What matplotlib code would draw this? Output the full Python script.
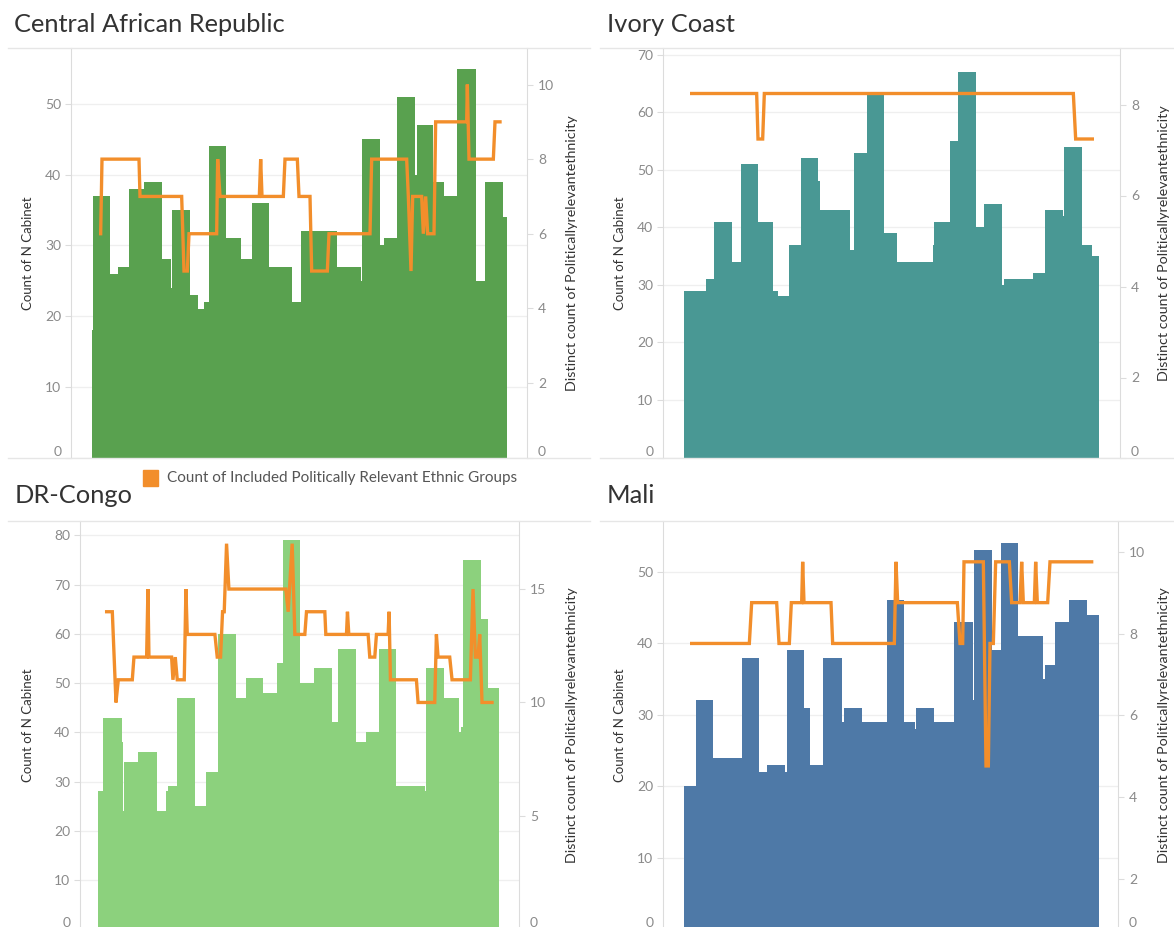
import numpy as np
import matplotlib
matplotlib.use("Agg")
import matplotlib.pyplot as plt
import matplotlib.transforms as mtransforms
from matplotlib.lines import Line2D
from matplotlib.patches import Rectangle

plt.rcParams['font.family'] = ['Lato', 'DejaVu Sans']

W, H = 1174, 927
ORANGE = '#F28E2B'
GREY_TXT = '#8a8a8a'
DARK = '#333333'
LINE_C = '#dcdcdc'

# ---- data (x = period index, bars are step segments between edges) ----
car_edges = [3.5, 3.8, 9.0, 11.5, 14.7, 19.3, 24.7, 27.2, 27.6, 33.0, 35.3, 37.3, 38.6, 43.8,
             48.2, 51.5, 56.8, 63.6, 66.3, 77.0, 84.3, 84.7, 90.1, 91.2, 95.2, 100.5, 101.0,
             106.0, 109.2, 113.2, 118.7, 121.5, 127.0, 128.0]
car_cabinet = [18, 37, 26, 27, 38, 39, 28, 24, 35, 23, 21, 22, 44, 31, 28, 36, 27, 22, 32, 27,
               25, 45, 30, 31, 51, 40, 47, 39, 37, 55, 25, 39, 34]
car_t = [6.2, 6.6, 17.7, 18.0, 30.5, 31.2, 32.2, 32.7, 41.0, 41.3, 42.0, 53.8, 54.2, 54.6, 61.0,
         61.5, 65.2, 65.7, 69.0, 69.5, 74.2, 74.7, 87.0, 87.5, 98.0, 98.5, 99.3, 99.8, 102.5,
         103.0, 103.7, 104.3, 106.2, 106.7, 116.0, 116.2, 116.7, 124.0, 124.5, 126.0]
car_groups = [6, 8, 8, 7, 7, 5, 5, 6, 6, 8, 7, 7, 8, 7, 7, 8, 8, 7, 7, 5, 5, 6, 6, 8, 8, 7, 5, 7,
              7, 6, 7, 6, 6, 9, 9, 10, 8, 8, 9, 9]

civ_edges = [4.2, 10.7, 13.2, 18.5, 21.2, 26.5, 30.8, 32.3, 35.8, 39.2, 44.5, 45.0, 54.0, 55.2,
             59.0, 64.3, 68.0, 79.0, 79.3, 84.0, 86.5, 91.8, 94.2, 99.5, 100.3, 108.8, 112.5,
             117.8, 118.3, 123.7, 126.5, 128.7]
civ_cabinet = [29, 31, 41, 34, 51, 41, 29, 28, 37, 52, 48, 43, 36, 53, 63, 39, 34, 37, 41, 55,
               67, 40, 44, 30, 31, 32, 43, 42, 54, 37, 35]
civ_t = [6.5, 26.0, 26.4, 27.8, 28.3, 121.0, 121.7, 126.7]
civ_groups = [8, 8, 7, 7, 8, 8, 7, 7]

drc_edges = [5.5, 7.0, 12.5, 13.0, 13.2, 17.5, 23.0, 25.8, 26.5, 29.2, 34.5, 37.8, 41.3, 46.7,
             49.8, 55.0, 59.2, 61.0, 66.2, 70.3, 75.7, 77.5, 82.8, 86.0, 89.7, 95.0, 103.5,
             104.0, 109.2, 113.7, 114.5, 115.0, 120.3, 122.5, 125.8]
drc_cabinet = [28, 43, 38, 24, 34, 36, 24, 28, 29, 47, 25, 32, 60, 47, 51, 48, 54, 79, 50, 53,
               42, 57, 38, 40, 57, 29, 28, 53, 47, 40, 41, 75, 63, 49]
drc_t = [8.0, 9.7, 10.8, 11.5, 15.7, 16.2, 20.0, 20.4, 20.7, 27.5, 27.9, 28.6, 29.2, 31.3, 31.8,
         32.2, 40.5, 41.2, 42.2, 42.8, 43.3, 44.0, 44.7, 61.8, 62.5, 63.7, 64.5, 67.5, 68.0,
         73.5, 73.8, 80.0, 80.3, 80.7, 86.5, 87.0, 88.5, 89.0, 92.5, 92.8, 93.2, 101.0, 101.5,
         106.5, 107.0, 107.5, 111.0, 111.7, 117.2, 118.0, 118.7, 119.5, 120.0, 120.7, 123.7]
drc_groups = [14, 14, 10, 11, 11, 12, 12, 15, 12, 12, 11, 12, 11, 11, 15, 13, 13, 12, 12, 14, 14,
              17, 15, 15, 14, 17, 13, 13, 14, 14, 13, 13, 14, 13, 13, 12, 12, 13, 13, 14, 11, 11,
              10, 10, 13, 12, 12, 11, 11, 15, 12, 12, 13, 10, 10]

mli_edges = [4.2, 7.8, 13.0, 21.5, 26.8, 29.0, 34.5, 35.0, 40.2, 42.0, 46.0, 51.5, 52.2, 57.5,
             65.0, 70.3, 73.5, 73.8, 79.3, 85.3, 90.8, 91.2, 96.7, 99.2, 104.5, 112.0, 112.5,
             115.5, 119.8, 125.0, 128.7]
mli_cabinet = [20, 32, 24, 38, 22, 23, 22, 39, 31, 23, 38, 29, 31, 29, 46, 29, 28, 31, 29, 43,
               32, 53, 39, 54, 41, 35, 37, 43, 46, 44]
mli_t = [6.5, 23.8, 24.5, 32.0, 32.7, 35.8, 36.4, 39.5, 39.8, 40.2, 48.3, 48.8, 67.3, 67.8,
         68.3, 86.2, 87.0, 87.8, 88.2, 94.0, 94.8, 95.5, 96.0, 97.0, 97.7, 101.8, 102.5, 105.0,
         105.5, 106.0, 109.3, 109.7, 110.2, 113.3, 114.0, 126.5]
mli_groups = [7, 7, 8, 8, 7, 7, 8, 8, 9, 8, 8, 7, 7, 9, 8, 8, 7, 7, 9, 9, 4, 4, 7, 7, 9, 9, 8, 8,
              9, 8, 8, 9, 8, 8, 9, 9]

fig = plt.figure(figsize=(W / 100, H / 100), dpi=100)
fig.patch.set_facecolor('white')


def fx(px):
    return px / W


def fy(py):
    return 1 - py / H


def hline(x0, x1, y):
    fig.add_artist(Line2D([fx(x0), fx(x1)], [fy(y), fy(y)], color='#e6e6e6', lw=1.0,
                          transform=fig.transFigure))


def panel(box, title, tpos, edges, cabinet, color, t, groups, xlim, ylim, yticks, ylim2, yticks2,
          lab_x, rlab_x, rlab_y=None, shift=0):
    x0, y0, x1, y1 = box
    ax = fig.add_axes([fx(x0), fy(y1), (x1 - x0) / W, (y1 - y0) / H])
    edges = np.array(edges)
    ax.bar(edges[:-1], cabinet, width=np.diff(edges), align='edge', color=color, lw=0)
    ax.set_xlim(*xlim)
    ax.set_ylim(*ylim)
    ax.set_yticks(yticks)
    ax.set_xticks([])
    ax.set_axisbelow(True)
    ax.grid(axis='y', color='#efefef', lw=0.9)
    for s in ['top', 'bottom', 'right']:
        ax.spines[s].set_visible(False)
    ax.spines['left'].set_color(LINE_C)
    ax.tick_params(axis='y', colors=LINE_C, labelcolor=GREY_TXT, labelsize=10, length=4, pad=3)

    ax2 = ax.twinx()
    ax2.plot(t, groups, color=ORANGE, lw=2.4, solid_joinstyle='miter')
    ax2.set_ylim(*ylim2)
    ax2.set_yticks(yticks2)
    for s in ['top', 'bottom', 'left']:
        ax2.spines[s].set_visible(False)
    ax2.spines['right'].set_color(LINE_C)
    ax2.tick_params(axis='y', colors=LINE_C, labelcolor=GREY_TXT, labelsize=10, length=4, pad=4)

    ax.yaxis.get_major_ticks()[0].label1.set_verticalalignment('bottom')
    ax2.yaxis.get_major_ticks()[0].label2.set_verticalalignment('bottom')
    if shift:
        off = mtransforms.ScaledTranslation(0, -shift / 100, fig.dpi_scale_trans)
        for tk in ax2.yaxis.get_major_ticks()[1:]:
            tk.label2.set_transform(tk.label2.get_transform() + off)
            tk.tick2line.set_transform(tk.tick2line.get_transform() + off)

    fig.text(fx(tpos[0]), fy(tpos[1]), title, fontsize=18.3, color=DARK, va='baseline')
    mid = (y0 + y1) / 2
    fig.text(fx(lab_x), fy(mid), 'Count of N Cabinet', rotation=90, fontsize=9.5, color=DARK,
             ha='center', va='center')
    fig.text(fx(rlab_x), fy(rlab_y if rlab_y else mid),
             'Distinct count of Politicallyrelevantethnicity', rotation=90,
             fontsize=10.3, color=DARK, ha='center', va='center')
    return ax


panel((71, 48, 527, 457.5), 'Central African Republic', (14, 31.5), car_edges, car_cabinet,
      '#59A14F', car_t, car_groups, (-2.7, 134.1), (0, 57.9), range(0, 51, 10), (0, 10.98),
      range(0, 11, 2), 28, 572)
panel((663, 48, 1120, 457.5), 'Ivory Coast', (607, 31.5), civ_edges, civ_cabinet,
      '#499894', civ_t, civ_groups, (-2.1, 135.0), (0, 71.2), range(0, 71, 10), (0, 9.0),
      range(0, 9, 2), 620, 1164, rlab_y=243, shift=11)
panel((80, 521, 519, 929.3), 'DR-Congo', (15, 503), drc_edges, drc_cabinet,
      '#8CD17D', drc_t, drc_groups, (0, 131.8), (0, 82.9), range(0, 81, 10), (0, 18.0),
      range(0, 16, 5), 28, 572)
panel((663, 521, 1118, 929.2), 'Mali', (607, 503), mli_edges, mli_cabinet,
      '#4E79A7', mli_t, mli_groups, (-2.1, 134.4), (0, 57.1), range(0, 51, 10), (0, 10.0),
      range(0, 11, 2), 620, 1164, shift=31)

# pane borders
for y in (48, 457.5, 521):
    hline(8, 590, y)
    hline(600, 1174, y)

# legend
fig.add_artist(Rectangle((fx(143), fy(486)), 15 / W, 16 / H, color=ORANGE,
                         transform=fig.transFigure))
fig.text(fx(167), fy(478), 'Count of Included Politically Relevant Ethnic Groups', fontsize=11,
         color='#555555', va='center')

fig.savefig('out.png', dpi=100, facecolor='white')
